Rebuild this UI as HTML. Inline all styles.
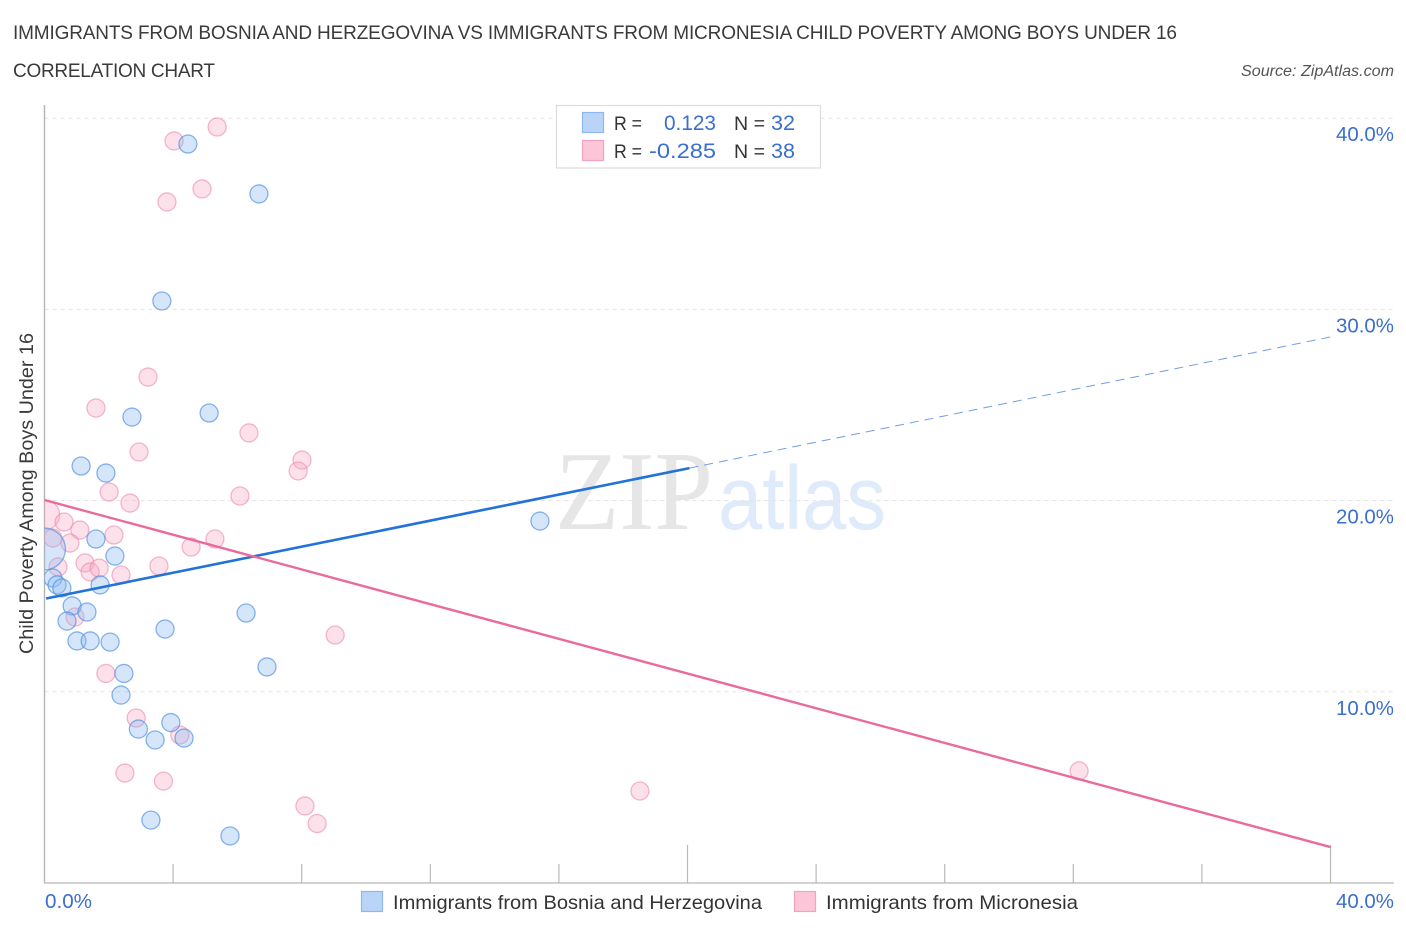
<!DOCTYPE html>
<html lang="en">
<head>
<meta charset="utf-8">
<title>Immigrants from Bosnia and Herzegovina vs Immigrants from Micronesia Child Poverty Correlation Chart</title>
<style>
html,body{margin:0;padding:0;background:#fff;width:1406px;height:930px;overflow:hidden}
svg{display:block}
text{font-family:"Liberation Sans",sans-serif}
</style>
</head>
<body>
<svg id="chart" xmlns="http://www.w3.org/2000/svg" width="1406" height="930" viewBox="0 0 1406 930">
  <defs>
    <clipPath id="plot-clip"><rect x="44.5" y="100" width="1350" height="783"></rect></clipPath>
  </defs>
  <rect x="0" y="0" width="1406" height="930" fill="#fff"></rect>

  <text x="13" y="39" font-size="19" fill="#3a3a3a" textLength="1164" lengthAdjust="spacing">IMMIGRANTS FROM BOSNIA AND HERZEGOVINA VS IMMIGRANTS FROM MICRONESIA CHILD POVERTY AMONG BOYS UNDER 16</text>
  <text x="13" y="77" font-size="19" fill="#3a3a3a" textLength="202" lengthAdjust="spacing">CORRELATION CHART</text>
  <text x="1241" y="76" font-size="15.5" font-style="italic" fill="#555" textLength="153" lengthAdjust="spacingAndGlyphs">Source: ZipAtlas.com</text>

  <g>
    <text x="555" y="529" font-size="112" fill="#e6e6e6" textLength="158" lengthAdjust="spacingAndGlyphs" style="font-family:'Liberation Serif',serif">ZIP</text>
    <text x="718" y="529" font-size="90" fill="#dfeafa" textLength="168" lengthAdjust="spacingAndGlyphs">atlas</text>
  </g>

  <g id="grid"></g>
  <g id="axes"></g>
  <g id="points" clip-path="url(#plot-clip)"></g>
  <g id="trends"></g>
  <g id="tick-labels"></g>

  <text transform="translate(33,654) rotate(-90)" x="0" y="0" font-size="19" fill="#3a3a3a" textLength="321" lengthAdjust="spacingAndGlyphs">Child Poverty Among Boys Under 16</text>

  <g>
    <rect x="556.5" y="105.5" width="264" height="62.5" fill="#fff" stroke="#dcdcdc" stroke-width="1.2"></rect>
    <rect x="582.5" y="112.5" width="21" height="20" fill="#b9d4f7" stroke="#8db8ee" stroke-width="1.2"></rect>
    <rect x="582.5" y="140.5" width="21" height="20" fill="#fcc5d8" stroke="#f3a3bf" stroke-width="1.2"></rect>
    <text x="614" y="130" font-size="19.5" fill="#333" textLength="28" lengthAdjust="spacingAndGlyphs">R =</text>
    <text x="664" y="130" font-size="21" fill="#3b6fce" textLength="52" lengthAdjust="spacingAndGlyphs">0.123</text>
    <text x="734" y="130" font-size="19.5" fill="#333" textLength="31" lengthAdjust="spacingAndGlyphs">N =</text>
    <text x="771" y="130" font-size="21" fill="#3b6fce" textLength="24" lengthAdjust="spacingAndGlyphs">32</text>
    <text x="614" y="158" font-size="19.5" fill="#333" textLength="28" lengthAdjust="spacingAndGlyphs">R =</text>
    <text x="649" y="158" font-size="21" fill="#3b6fce" textLength="67" lengthAdjust="spacingAndGlyphs">-0.285</text>
    <text x="734" y="158" font-size="19.5" fill="#333" textLength="31" lengthAdjust="spacingAndGlyphs">N =</text>
    <text x="771" y="158" font-size="21" fill="#3b6fce" textLength="24" lengthAdjust="spacingAndGlyphs">38</text>
  </g>

  <g>
    <rect x="361.5" y="891.5" width="21" height="20" fill="#b9d4f7" stroke="#8db8ee" stroke-width="1.2"></rect>
    <text x="393" y="909" font-size="19.5" fill="#333" textLength="369" lengthAdjust="spacingAndGlyphs">Immigrants from Bosnia and Herzegovina</text>
    <rect x="794.5" y="891.5" width="21" height="20" fill="#fcc5d8" stroke="#f3a3bf" stroke-width="1.2"></rect>
    <text x="826" y="909" font-size="19.5" fill="#333" textLength="252" lengthAdjust="spacingAndGlyphs">Immigrants from Micronesia</text>
  </g>
</svg>

<script>
// Chart data
const bosniaX = [4.46,6.67,3.65,2.72,5.12,1.14,1.91,15.41,1.60,2.19,0,0.26,0.39,0.54,0.86,1.32,0.70,1.01,1.42,2.04,1.73,3.75,6.27,6.92,2.47,2.38,3.93,2.92,3.44,4.34,3.31,5.77];
const bosniaY = [38.65,36.04,30.44,24.37,24.58,21.81,21.44,18.93,17.99,17.10,17.47,15.95,15.59,15.43,14.49,14.17,13.70,12.66,12.66,12.60,15.59,13.28,14.12,11.30,10.96,9.83,8.39,8.05,7.48,7.58,3.29,2.46];
const bosniaWeight = [1,1,1,1,1,1,1,1,1,1,5.4,1,1,1,1,1,1,1,1,1,1,1,1,1,1,1,1,1,1,1,1,1];

const micronesiaX = [5.37,4.03,4.90,3.81,3.22,1.60,2.94,6.36,8.01,7.89,2.01,2.66,6.08,0,0.61,1.10,2.16,0.79,5.30,4.56,0.26,0.42,1.26,1.42,1.70,2.38,3.56,0.95,9.04,1.91,2.85,4.21,2.50,3.70,8.10,8.48,18.52,32.18];
const micronesiaY = [39.54,38.81,36.30,35.62,26.46,24.84,22.54,23.54,22.12,21.55,20.45,19.87,20.24,19.25,18.88,18.46,18.20,17.78,17.99,17.57,18.04,16.53,16.74,16.27,16.47,16.11,16.58,13.91,12.97,10.96,8.63,7.74,5.75,5.33,4.03,3.11,4.81,5.86];
const micronesiaWeight = [1,1,1,1,1,1,1,1,1,1,1,1,1,2.8,1,1,1,1,1,1,1,1,1,1,1,1,1,1,1,1,1,1,1,1,1,1,1,1];

const bosniaTrendX = [0.05,20.06];
const bosniaTrendY = [14.88,21.70];
const bosniaForecastX = [20.06,40];
const bosniaForecastY = [21.70,28.56];
const micronesiaTrendX = [0,40];
const micronesiaTrendY = [20.03,1.88];

const yTickValues = [10,20,30,40];
const yTickLabels = ["10.0%","20.0%","30.0%","40.0%"];
const xTickValues = [4,8,12,16,20,24,28,32,36,40];
const xLongTicks = [20,40];
const xEndValues = [0,40];
const xEndLabels = ["0.0%","40.0%"];

// Axis functions
const xScale = v => 44.5 + v * 32.15;
const yScale = v => 883 - v * 19.12;
const radius = w => 9 * Math.sqrt(w);

const NS = "http://www.w3.org/2000/svg";
function make(tag, parent) {
  const el = document.createElementNS(NS, tag);
  parent.appendChild(el);
  return el;
}

// Gridlines
const gridG = document.getElementById("grid");
yTickValues.forEach(function (v) {
  const l = make("line", gridG);
  
  
  l.setAttribute("x1", 44.5);
  l.setAttribute("x2", 1394);
  l.setAttribute("y1", yScale(v));
  l.setAttribute("y2", yScale(v));
  l.setAttribute("stroke", "#e3e3e3");
  l.setAttribute("stroke-width", "1");
  l.setAttribute("stroke-dasharray", "4 4");
});

// Axes
const axesG = document.getElementById("axes");
const yAxis = make("line", axesG);


yAxis.setAttribute("x1", 44.5);
yAxis.setAttribute("x2", 44.5);
yAxis.setAttribute("y1", 105);
yAxis.setAttribute("y2", 883);
yAxis.setAttribute("stroke", "#b4b4b4");
yAxis.setAttribute("stroke-width", "1.4");

const xAxis = make("line", axesG);


xAxis.setAttribute("x1", 44);
xAxis.setAttribute("x2", 1394);
xAxis.setAttribute("y1", 883);
xAxis.setAttribute("y2", 883);
xAxis.setAttribute("stroke", "#c4c4c4");
xAxis.setAttribute("stroke-width", "1.4");

xTickValues.forEach(function (v) {
  const t = make("line", axesG);
  
  
  t.setAttribute("x1", xScale(v));
  t.setAttribute("x2", xScale(v));
  t.setAttribute("y1", 883);
  t.setAttribute("y2", xLongTicks.includes(v) ? 845 : 864);
  t.setAttribute("stroke", "#b9b9b9");
  t.setAttribute("stroke-width", "1.2");
});

// Points
const pointsG = document.getElementById("points");
function drawPoints(xs, ys, ws, fill, stroke, name) {
  xs.forEach(function (x, i) {
    const c = make("circle", pointsG);
    
    
    c.setAttribute("cx", xScale(x));
    c.setAttribute("cy", yScale(ys[i]));
    c.setAttribute("r", radius(ws[i]));
    c.setAttribute("fill", fill);
    c.setAttribute("stroke", stroke);
    c.setAttribute("stroke-width", "1.3");
  });
}
drawPoints(micronesiaX, micronesiaY, micronesiaWeight, "rgba(248,170,196,0.36)", "rgba(238,140,175,0.62)", "micronesia-point");
drawPoints(bosniaX, bosniaY, bosniaWeight, "rgba(142,186,240,0.36)", "rgba(80,145,225,0.68)", "bosnia-point");

// Trend lines
const trendsG = document.getElementById("trends");
function drawTrend(xs, ys, color, width, dash, name) {
  const l = make("line", trendsG);
  
  
  l.setAttribute("x1", xScale(xs[0]));
  l.setAttribute("y1", yScale(ys[0]));
  l.setAttribute("x2", xScale(xs[1]));
  l.setAttribute("y2", yScale(ys[1]));
  l.setAttribute("stroke", color);
  l.setAttribute("stroke-width", width);
  if (dash) l.setAttribute("stroke-dasharray", dash);
}
drawTrend(bosniaForecastX, bosniaForecastY, "#6f9fe0", "1", "9 6", "bosnia-trend-forecast");
drawTrend(bosniaTrendX, bosniaTrendY, "#2272d9", "2.6", null, "bosnia-trend-line");
drawTrend(micronesiaTrendX, micronesiaTrendY, "#e96a9b", "2.4", null, "micronesia-trend-line");

// Tick labels
const labelsG = document.getElementById("tick-labels");
yTickValues.forEach(function (v, i) {
  const t = make("text", labelsG);
  
  
  t.setAttribute("x", 1336);
  t.setAttribute("y", yScale(v) + 23);
  t.setAttribute("font-size", "20");
  t.setAttribute("fill", "#3b6fce");
  t.setAttribute("textLength", "58");
  t.setAttribute("lengthAdjust", "spacingAndGlyphs");
  t.textContent = yTickLabels[i];
});
xEndValues.forEach(function (v, i) {
  const t = make("text", labelsG);
  
  
  t.setAttribute("x", i === 0 ? xScale(v) + 0.5 : 1336);
  t.setAttribute("y", 908);
  t.setAttribute("font-size", "20");
  t.setAttribute("fill", "#3b6fce");
  t.setAttribute("textLength", i === 0 ? "47" : "58");
  t.setAttribute("lengthAdjust", "spacingAndGlyphs");
  t.textContent = xEndLabels[i];
});
</script>
</body>
</html>
